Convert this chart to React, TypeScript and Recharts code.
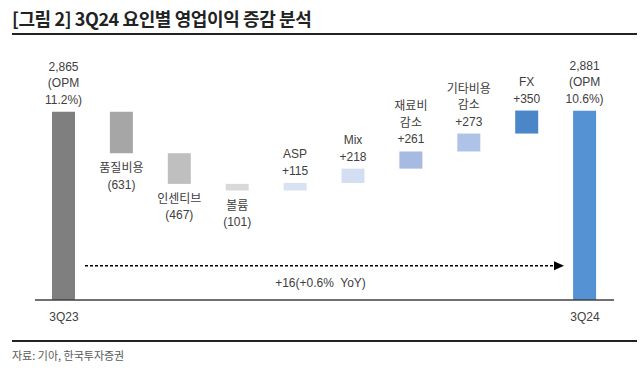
import React from 'react';
import { ComposedChart, Bar, XAxis, YAxis, Cell, LabelList, ReferenceLine } from 'recharts';

// 3Q23 -> 3Q24 operating profit bridge (단위: 십억원)
const categories = ['3Q23', '품질비용', '인센티브', '볼륨', 'ASP', 'Mix', '재료비 감소', '기타비용 감소', 'FX', '3Q24'];
const values = [2865, -631, -467, -101, 115, 218, 261, 273, 350, 2881];
const labelNames = [[], ['품질비용'], ['인센티브'], ['볼륨'], ['ASP'], ['Mix'], ['재료비', '감소'], ['기타비용', '감소'], ['FX'], []];
const opmStart = 11.2;
const opmEnd = 10.6;

const barColors = ['#7f7f7f', '#a6a6a6', '#bfbfbf', '#d9d9d9', '#d8e2f3', '#d4def2', '#a6bae2', '#afc3e8', '#4a86c8', '#5592d3'];

const FONT = '"Liberation Sans", Arial, "Noto Sans CJK KR", sans-serif';
const TEXT = '#404040';

const last = values.length - 1;
const fmt = (n: number) => n.toLocaleString('en-US');

// waterfall rows: invisible base + visible delta
const rows = (() => {
    let running = 0;
    return values.map((v, i) => {
        let base = 0;
        let delta = v;
        let lines: string[];
        if (i === 0 || i === last) {
            running = v;
            lines = [fmt(v), '(OPM', `${i === 0 ? opmStart : opmEnd}%)`];
        } else if (v < 0) {
            base = running + v;
            delta = -v;
            running += v;
            lines = [...labelNames[i], `(${fmt(-v)})`];
        } else {
            base = running;
            running += v;
            lines = [...labelNames[i], `+${fmt(v)}`];
        }
        return { name: categories[i], base, delta, idx: i, lines, down: v < 0 && i !== 0 && i !== last };
    });
})();

const change = values[last] - values[0];
const changePct = (change / values[0]) * 100;
const changeText = `+${change}(+${changePct.toFixed(1)}%  YoY)`;

const BarLabel = (props: any) => {
    const { x, y, width, height, value } = props;
    const row = rows[value];
    if (!row) return null;
    const cx = x + width / 2;
    const n = row.lines.length;
    const step = 16.5;
    return (
        <g>
            {row.lines.map((t, i) => {
                const ty = row.down ? y + height + 15 + i * step : y - 12 - (n - 1 - i) * step;
                return (
                    <text key={i} x={cx} y={ty} textAnchor="middle" dominantBaseline="central"
                        fontSize={12} fill={TEXT} fontFamily={FONT}>
                        {t}
                    </text>
                );
            })}
        </g>
    );
};

const ArrowLine = (props: any) => {
    const { x1, x2, y1 } = props;
    const sx = x1 + 50;
    const tip = x2 - 50;
    const mid = (x1 + x2) / 2 - 4;
    return (
        <g>
            <line x1={sx} y1={y1} x2={tip - 9} y2={y1} stroke="#000" strokeWidth={1.5} strokeDasharray="3 2" />
            <path d={`M${tip - 10},${y1 - 4.5} L${tip},${y1} L${tip - 10},${y1 + 4.5} Z`} fill="#000" />
            <text x={mid} y={y1 + 17} textAnchor="middle" dominantBaseline="central" fontSize={12} fill={TEXT}
                fontFamily={FONT} style={{ whiteSpace: 'pre' }}>
                {changeText}
            </text>
        </g>
    );
};

export default function App() {
    return (
        <div style={{ position: 'absolute', left: 0, top: 0, width: 640, height: 371, background: '#fff', fontFamily: FONT }}>
            <div style={{ position: 'absolute', left: 12, top: 6, fontSize: 18, fontWeight: 700, color: '#222', letterSpacing: -0.4, fontFamily: '"Noto Sans CJK KR", sans-serif', lineHeight: '24px' }}>
                [그림 2] 3Q24 요인별 영업이익 증감 분석
            </div>
            <div style={{ position: 'absolute', left: 12, top: 33, width: 625, height: 2, background: '#222' }} />
            <div style={{ position: 'absolute', left: 0, top: 0 }}>
                <ComposedChart width={640} height={371} data={rows} margin={{ top: 70, right: 26, bottom: 41, left: 35 }} barCategoryGap={0}>
                    <XAxis dataKey="name" height={30} interval={0} tickLine={false} tickMargin={6}
                        axisLine={{ stroke: '#404040', strokeWidth: 1.5 }}
                        tick={{ fontSize: 12, fill: TEXT, fontFamily: FONT }}
                        tickFormatter={(v: string, i: number) => (i === 0 || i === last ? v : '')} />
                    <YAxis hide domain={[0, 3500]} />
                    <ReferenceLine y={520} shape={ArrowLine} ifOverflow="visible" />
                    <Bar dataKey="base" stackId="w" fill="transparent" barSize={23} isAnimationActive={false} />
                    <Bar dataKey="delta" stackId="w" barSize={23} isAnimationActive={false}>
                        {rows.map((r, i) => <Cell key={r.name} fill={barColors[i]} />)}
                        <LabelList dataKey="idx" content={BarLabel} />
                    </Bar>
                </ComposedChart>
            </div>
            <div style={{ position: 'absolute', left: 12, top: 340, width: 625, height: 2, background: '#222' }} />
            <div style={{ position: 'absolute', left: 12, top: 347, fontSize: 11, color: '#595959', fontFamily: '"Noto Sans CJK KR", sans-serif' }}>
                자료: 기아, 한국투자증권
            </div>
        </div>
    );
}
